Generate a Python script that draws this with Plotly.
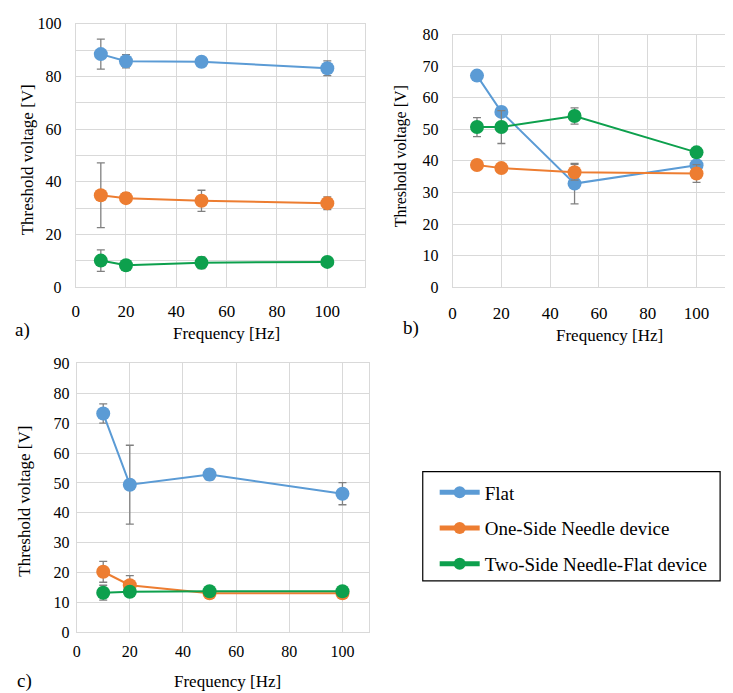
import plotly.graph_objects as go

# ---------------- data ----------------
freq = [10, 20, 50, 100]

a_flat = [88.5, 85.8, 85.6, 83.1]
a_flat_err = [5.7, 2.5, 0.8, 2.8]
a_one = [34.9, 33.8, 32.8, 31.9]
a_one_err = [12.3, 2.0, 4.0, 2.4]
a_two = [10.1, 8.3, 9.3, 9.6]
a_two_err = [4.1, 1.0, 2.2, 0.8]

b_flat = [67.0, 55.5, 32.8, 38.6]
b_flat_err = [0.8, 1.5, 6.4, 1.0]
b_one = [38.7, 37.7, 36.4, 36.0]
b_one_err = [0.8, 0.8, 2.5, 2.8]
b_two = [50.7, 50.7, 54.2, 42.7]
b_two_err = [3.0, 5.2, 2.6, 1.0]

c_flat = [73.2, 49.4, 52.8, 46.4]
c_flat_err = [3.2, 13.2, 1.8, 3.7]
c_one = [20.3, 15.8, 13.1, 13.1]
c_one_err = [3.5, 3.2, 0.5, 0.5]
c_two = [13.3, 13.6, 13.8, 13.8]
c_two_err = [2.5, 0.5, 0.5, 0.5]

series_names = ["Flat", "One-Side Needle device", "Two-Side Needle-Flat device"]
colors = ["#5B9BD5", "#ED7D31", "#0DA04D"]

panels = [
    ("x", "y", [(a_flat, a_flat_err), (a_one, a_one_err), (a_two, a_two_err)], True),
    ("x2", "y2", [(b_flat, b_flat_err), (b_one, b_one_err), (b_two, b_two_err)], False),
    ("x3", "y3", [(c_flat, c_flat_err), (c_one, c_one_err), (c_two, c_two_err)], False),
]

W, H = 733, 693
FONT = "Liberation Serif"

fig = go.Figure()
for xa, ya, data, show in panels:
    for i, (vals, errs) in enumerate(data):
        fig.add_trace(go.Scatter(
            x=freq, y=vals, xaxis=xa, yaxis=ya,
            mode="lines+markers",
            name=series_names[i], legendgroup=series_names[i], showlegend=show,
            line=dict(color=colors[i], width=2),
            marker=dict(color=colors[i], size=14),
            error_y=dict(type="data", array=errs, visible=True,
                         color="#808080", thickness=1.3, width=4),
        ))

def px_dom_x(l, r):
    return [l / W, r / W]

def px_dom_y(b, t):
    return [1 - b / H, 1 - t / H]

grid = "#D9D9D9"
base = dict(showgrid=True, gridcolor=grid, gridwidth=1, showline=True,
            linecolor=grid, linewidth=1, mirror=True, zeroline=False, ticks="")

def tf(size):
    return dict(family=FONT, size=size, color="#000")

fig.update_layout(
    width=W, height=H, margin=dict(l=0, r=0, t=0, b=0),
    paper_bgcolor="white", plot_bgcolor="white",
    font=dict(family=FONT, color="#000"),
    showlegend=True,
    legend=dict(x=425 / W, y=1 - 469 / H, xanchor="left", yanchor="top",
                borderwidth=0, bgcolor="rgba(0,0,0,0)",
                font=dict(family=FONT, size=19, color="#000"),
                traceorder="grouped", tracegroupgap=8, itemsizing="constant",
                itemwidth=40),
    xaxis=dict(domain=px_dom_x(64, 355), range=[0, 115], dtick=20, anchor="y",
               ticklabelstandoff=8, tickfont=tf(17), **base),
    yaxis=dict(domain=px_dom_y(278, 8), range=[0, 100], dtick=20, anchor="x",
               minor=dict(dtick=10, showgrid=True, gridcolor=grid),
               ticklabelstandoff=10, tickfont=tf(16), **base),
    xaxis2=dict(domain=px_dom_x(443, 730), range=[0, 117], dtick=20, anchor="y2",
                ticklabelstandoff=10, tickfont=tf(17), **base),
    yaxis2=dict(domain=px_dom_y(278, 19), range=[0, 80], dtick=10, anchor="x2",
                ticklabelstandoff=10, tickfont=tf(16), **base),
    xaxis3=dict(domain=px_dom_x(65, 359), range=[0, 110], dtick=20, anchor="y3",
                ticklabelstandoff=4, tickfont=tf(16), **base),
    yaxis3=dict(domain=px_dom_y(632, 356), range=[0, 90], dtick=10, anchor="x3",
                ticklabelstandoff=3, tickfont=tf(16), **base),
)

# legend frame
fig.add_shape(type="rect", xref="paper", yref="paper",
              x0=413 / W, x1=712 / W, y0=1 - 579 / H, y1=1 - 467 / H,
              line=dict(color="#000", width=1.2), fillcolor="rgba(0,0,0,0)",
              layer="above")

def ann(x, y, text, size=17, angle=0):
    fig.add_annotation(x=x / W, y=1 - y / H, xref="paper", yref="paper",
                       text=text, showarrow=False, textangle=angle,
                       font=dict(family=FONT, size=size, color="#000"),
                       xanchor="center", yanchor="middle")

ann(15, 147, "Threshold voltage [V]", 17, -90)
ann(392, 144, "Threshold voltage [V]", 16, -90)
ann(13, 497, "Threshold voltage [V]", 17, -90)
ann(216, 325, "Frequency [Hz]")
ann(601, 328, "Frequency [Hz]")
ann(217, 682, "Frequency [Hz]")
ann(11, 322, "a)", 19)
ann(401, 320, "b)", 19)
ann(13, 682, "c)", 19)

fig.write_html("out.html")
